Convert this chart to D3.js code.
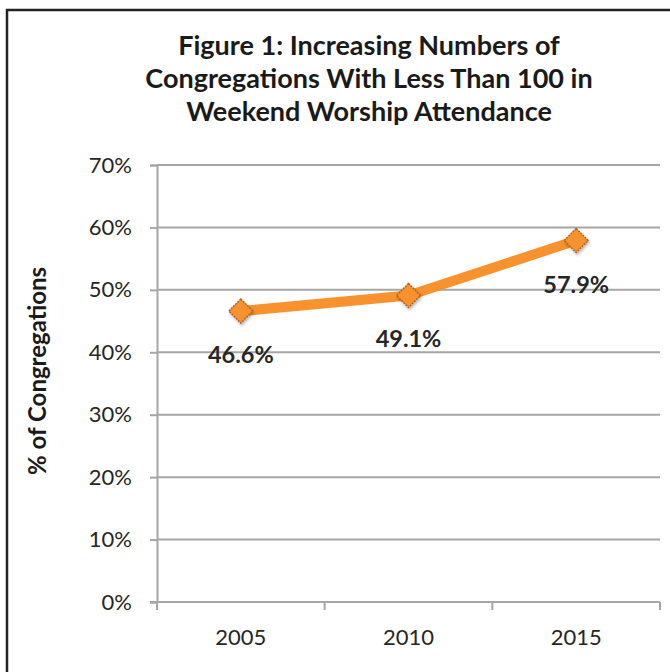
<!DOCTYPE html>
<html><head><meta charset="utf-8">
<script src="https://cdn.jsdelivr.net/npm/d3@7"></script>
<style>
html,body{margin:0;padding:0;background:#fff;}
svg{display:block;}
</style></head>
<body>
<svg id="c" width="670" height="672"></svg>
<script>
const years = ["2005", "2010", "2015"];
const values = [46.6, 49.1, 57.9];
const labels = ["46.6%", "49.1%", "57.9%"];
const yTicks = [0, 10, 20, 30, 40, 50, 60, 70];
const titleLines = ["Figure 1: Increasing Numbers of", "Congregations With Less Than 100 in", "Weekend Worship Attendance"];
const yTitle = "% of Congregations";

(function () {
const svg = d3.select("#c");
const font = "Lato, 'Open Sans', sans-serif";
const pLeft = 157, pRight = 660, pTop = 165, pBottom = 602;

// frame
svg.append("path").attr("d", "M7,672 V10 H670").attr("fill", "none").attr("stroke", "#222").attr("stroke-width", 2.5);

const x = d3.scaleBand().domain(years).range([pLeft, pRight]).paddingInner(0).paddingOuter(0);
const y = d3.scaleLinear().domain([0, 70]).range([pBottom, pTop]);

// gridlines
svg.append("g").selectAll("line").data(yTicks.filter(d => d > 0)).join("line")
  .attr("x1", pLeft).attr("x2", pRight).attr("y1", d => y(d)).attr("y2", d => y(d))
  .attr("stroke", "#a6a6a6").attr("stroke-width", 2);

// y axis
const ya = svg.append("g").attr("transform", `translate(${pLeft},0)`)
  .call(d3.axisLeft(y).tickValues(yTicks).tickFormat(d => d + "%").tickSize(7).tickPadding(18));
ya.select(".domain").attr("stroke", "#a6a6a6").attr("stroke-width", 2);
ya.selectAll(".tick line").attr("stroke", "#a6a6a6").attr("stroke-width", 2);
ya.selectAll("text").attr("font-family", font).attr("font-size", 22).attr("fill", "#262626");

// x axis
const xa = svg.append("g").attr("transform", `translate(0,${pBottom})`)
  .call(d3.axisBottom(x).tickSize(0).tickPadding(27));
xa.select(".domain").remove();
xa.selectAll(".tick line").remove();
xa.selectAll("text").attr("font-family", font).attr("font-size", 22).attr("fill", "#262626");
svg.append("line").attr("x1", pLeft - 7).attr("x2", pRight).attr("y1", pBottom).attr("y2", pBottom)
  .attr("stroke", "#a6a6a6").attr("stroke-width", 2);
const boundaries = years.map(d => x(d)).concat([x(years[years.length - 1]) + x.bandwidth()]);
svg.append("g").selectAll("line").data(boundaries).join("line")
  .attr("x1", d => d).attr("x2", d => d).attr("y1", pBottom).attr("y2", pBottom + 8)
  .attr("stroke", "#a6a6a6").attr("stroke-width", 2);

// line
const cx = d => x(d) + x.bandwidth() / 2;
const data = years.map((d, i) => ({ year: d, v: values[i], label: labels[i] }));
svg.append("path").datum(data)
  .attr("d", d3.line().x(d => cx(d.year)).y(d => y(d.v)))
  .attr("fill", "none").attr("stroke", "#f7922f").attr("stroke-width", 10).attr("stroke-linejoin", "round");

// shadow filter
const defs = svg.append("defs");
const f = defs.append("filter").attr("id", "sh").attr("x", "-50%").attr("y", "-50%").attr("width", "200%").attr("height", "200%");
f.append("feDropShadow").attr("dx", 1).attr("dy", 2).attr("stdDeviation", 1.5).attr("flood-color", "#000").attr("flood-opacity", 0.3);

svg.append("g").selectAll("path").data(data).join("path")
  .attr("transform", d => `translate(${cx(d.year)},${y(d.v)})`)
  .attr("d", "M0,-12 L12,0 L0,12 L-12,0 Z")
  .attr("fill", "#f7922f").attr("stroke", "#b5651d").attr("stroke-width", 1.5).attr("stroke-dasharray", "2,1")
  .attr("filter", "url(#sh)");

// data labels
svg.append("g").selectAll("text").data(data).join("text")
  .attr("x", d => cx(d.year)).attr("y", d => y(d.v) + 52)
  .attr("text-anchor", "middle").attr("font-family", font).attr("font-weight", "bold")
  .attr("font-size", 23.5).attr("fill", "#262626").text(d => d.label);

// title
svg.append("g").selectAll("text").data(titleLines).join("text")
  .attr("x", 369).attr("y", (d, i) => 55 + i * 33)
  .attr("text-anchor", "middle").attr("font-family", font).attr("font-weight", "bold")
  .attr("font-size", 27).attr("fill", "#1a1a1a").text(d => d);

// y title
svg.append("text").attr("transform", "translate(46,371) rotate(-90)")
  .attr("text-anchor", "middle").attr("font-family", font).attr("font-weight", "bold")
  .attr("font-size", 24).attr("fill", "#1a1a1a").text(yTitle);
})();
</script>
</body></html>
